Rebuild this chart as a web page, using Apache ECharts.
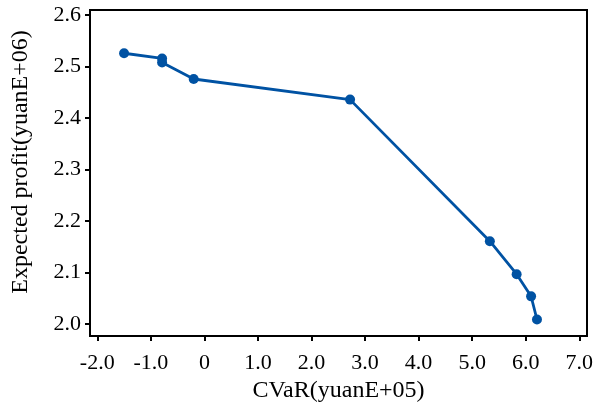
<!DOCTYPE html>
<html>
<head>
<meta charset="utf-8">
<script src="https://cdn.jsdelivr.net/npm/echarts@6/dist/echarts.min.js"></script>
<style>
html,body{margin:0;padding:0;background:#fff;}
#chart{width:595px;height:404px;}
</style>
</head>
<body>
<div id="chart"></div>
<script>
// CVaR values (yuan E+05)
var cvar = [-1.50, -0.79, -0.79, -0.20, 2.72, 5.33, 5.83, 6.10, 6.21];
// Expected profit values (yuan E+06)
var profit = [2.526, 2.516, 2.508, 2.476, 2.436, 2.161, 2.097, 2.054, 2.009];
var xTicks = [-2, -1, 0, 1, 2, 3, 4, 5, 6, 7];
var xTickLabels = ['-2.0', '-1.0', '0', '1.0', '2.0', '3.0', '4.0', '5.0', '6.0', '7.0'];
var yTicks = [2.0, 2.1, 2.2, 2.3, 2.4, 2.5, 2.6];
var yTickLabels = ['2.0', '2.1', '2.2', '2.3', '2.4', '2.5', '2.6'];
var xTitle = 'CVaR(yuanE+05)';
var yTitle = 'Expected profit(yuanE+06)';

var data = cvar.map(function (v, i) { return [v, profit[i]]; });
var font = 'Liberation Serif, Times New Roman, serif';
function labelFor(ticks, labels) {
  return function (v) {
    for (var i = 0; i < ticks.length; i++) {
      if (Math.abs(ticks[i] - v) < 1e-9) return labels[i];
    }
    return '';
  };
}
var chart = echarts.init(document.getElementById('chart'), null, {renderer: 'canvas'});
chart.setOption({
  animation: false,
  grid: {left: 90, top: 10, right: 8, bottom: 68, show: true, borderColor: '#000', borderWidth: 2,
    backgroundColor: 'transparent', containLabel: false, outerBoundsMode: 'none'},
  xAxis: {
    type: 'value', min: -2.136, max: 7.144,
    name: xTitle, nameLocation: 'middle', nameGap: 41,
    nameTextStyle: {fontFamily: font, fontSize: 24, color: '#000'},
    splitLine: {show: false},
    axisLine: {show: true, onZero: false, lineStyle: {color: '#000', width: 2}},
    axisTick: {show: true, inside: false, length: 5, customValues: xTicks, lineStyle: {color: '#000', width: 2}},
    axisLabel: {customValues: xTicks, fontFamily: font, fontSize: 22, color: '#000', margin: 16,
      formatter: labelFor(xTicks, xTickLabels)}
  },
  yAxis: {
    type: 'value', min: 1.977, max: 2.61,
    name: yTitle, nameLocation: 'middle', nameGap: 57,
    nameTextStyle: {fontFamily: font, fontSize: 24, color: '#000', padding: [0, 0, 0, 22]},
    splitLine: {show: false},
    axisLine: {show: true, onZero: false, lineStyle: {color: '#000', width: 2}},
    axisTick: {show: true, inside: false, length: 5, customValues: yTicks, lineStyle: {color: '#000', width: 2}},
    axisLabel: {customValues: yTicks, fontFamily: font, fontSize: 22, color: '#000', margin: 9,
      formatter: labelFor(yTicks, yTickLabels)}
  },
  series: [{
    type: 'line', data: data,
    symbol: 'circle', symbolSize: 10,
    lineStyle: {color: '#0052a3', width: 2.8},
    itemStyle: {color: '#0052a3'}
  }]
});
</script>
</body>
</html>
